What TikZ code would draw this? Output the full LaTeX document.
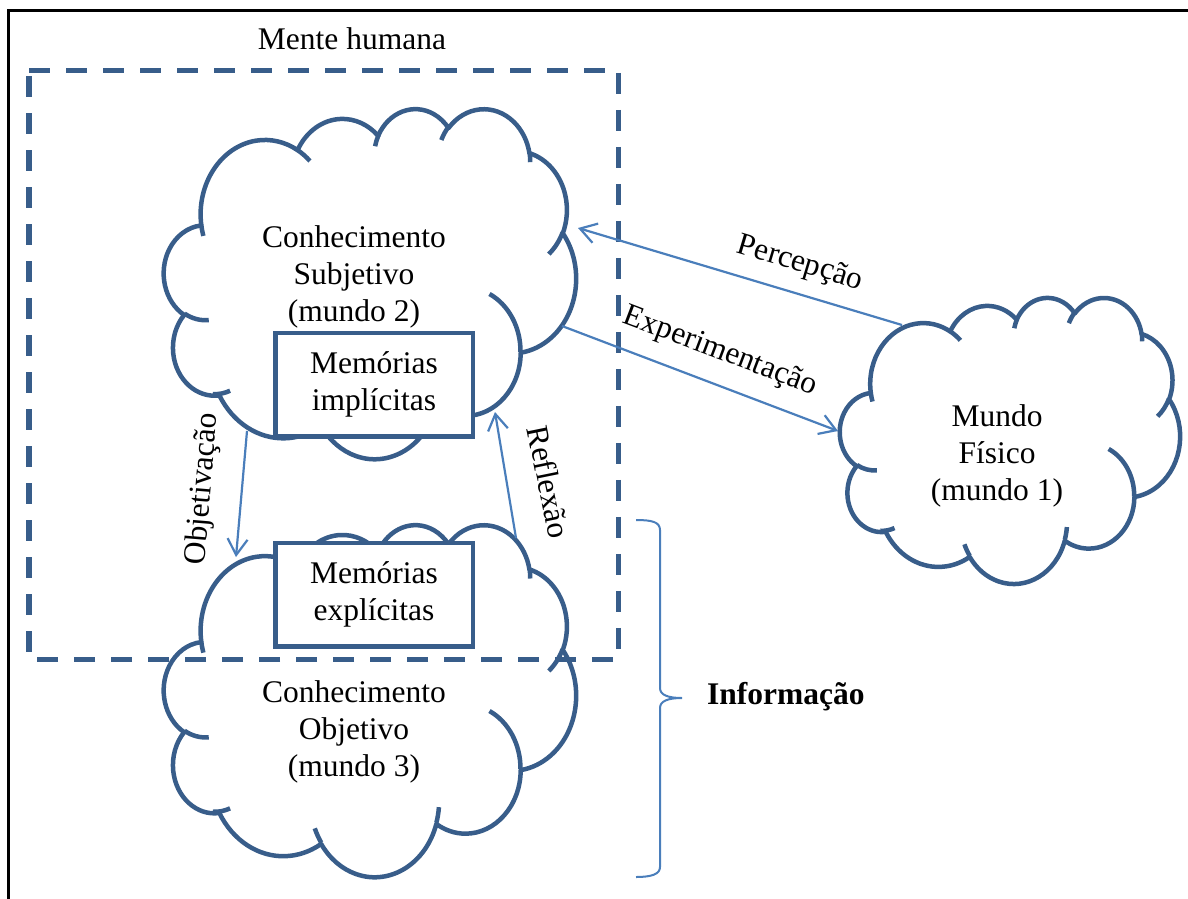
\documentclass[tikz,border=0pt]{standalone}
\usepackage{fontspec}
\setmainfont{Liberation Serif}
\usetikzlibrary{arrows.meta}

\definecolor{shapeblue}{HTML}{385D8A}
\definecolor{arrowblue}{HTML}{4A7EBB}

\newcommand\bodyfont{\fontsize{31.5}{37}\selectfont}

% elliptical arc continuing from the current point; angles are visual
% angles (converted to parametric ones by pang)
\newcommand\cloudarc[4]{arc[x radius=#1, y radius=#2,
  start angle={pang(#1,#2,#3)}, end angle={pang(#1,#2,(#3)+(#4))}]}

% cloud outline fitted into the box left/top/width/height (in pt, y down)
\newcommand\drawcloud[4]{%
  \pgfmathsetmacro\cloudsx{#3/432}%
  \pgfmathsetmacro\cloudsy{#4/432}%
  \begin{scope}[xshift=#1pt, yshift=-#2pt, x=\cloudsx pt, y=-\cloudsy pt]
    \draw[cloudline, fill=white] (39,143.7)
      \cloudarc{67.53}{91.90}{-190.4875}{123.7805}
      \cloudarc{53.33}{72.67}{-144.1024}{89.9452}
      \cloudarc{43.65}{59.45}{-145.8079}{99.7230}
      \cloudarc{48.57}{65.95}{-130.9861}{117.2417}
      \cloudarc{53.33}{72.73}{-78.7089}{109.0269}
      \cloudarc{67.75}{92.20}{-46.2673}{130.2690}
      \cloudarc{57.85}{78.67}{0.6250}{114.0333}
      \cloudarc{67.52}{92.15}{22.4516}{115.1726}
      \cloudarc{77.20}{105.43}{66.2426}{75.7110}
      \cloudarc{43.60}{59.18}{-274.9421}{146.7356}
      \cloudarc{43.45}{59.45}{-246.8285}{152.5189}
      -- cycle;
    \draw[cloudline]
      (46.93,261.77) \cloudarc{43.45}{59.45}{86.7420}{26.4295}
      (69.28,348.99) \cloudarc{43.60}{59.18}{73.6105}{18.2977}
      (164.78,390.90) \cloudarc{67.52}{92.15}{137.6242}{14.0722}
      (288.27,347.51) \cloudarc{67.52}{92.15}{6.4533}{15.9984}
      (341.29,229.54) \cloudarc{57.85}{78.67}{-70.2924}{70.9174}
      (417.98,153.54) \cloudarc{53.33}{72.73}{30.3180}{27.7515}
      (383.24,54.26) \cloudarc{48.57}{65.95}{-13.7443}{14.8589}
      (290.78,39.52) \cloudarc{48.57}{65.95}{-149.1815}{18.1954}
      (221.41,47.20) \cloudarc{43.65}{59.45}{-163.4943}{17.6864}
      (140.00,51.92) \cloudarc{67.53}{91.90}{-66.7070}{12.3194}
      (41.27,157.89) \cloudarc{67.53}{91.90}{157.6544}{11.8582};
  \end{scope}}

\begin{document}
\begin{tikzpicture}[x=1pt, y=-1pt,
  declare function={pang(\xa,\xb,\xc)=atan2(\xa*sin(\xc),\xb*cos(\xc))
      +360*round((\xc-atan2(\xa*sin(\xc),\xb*cos(\xc)))/360);},
  cloudline/.style={draw=shapeblue, line width=4.5pt, line join=round},
  memo/.style={draw=shapeblue, line width=4.5pt, fill=white,
    minimum width=197.5pt, minimum height=103.5pt, inner sep=0pt,
    align=center, font=\bodyfont},
  lbl/.style={font=\bodyfont, inner sep=0pt, align=center},
  flow/.style={draw=arrowblue, line width=2.2pt,
    -{Straight Barb[length=16pt,width=20pt]}},
]
\useasboundingbox (0,0) rectangle (1188,899);

% page frame (top and left edges)
\draw[line width=2.5pt] (8.5,905) -- (8.5,10.5) -- (1195,10.5);

% the three worlds
\drawcloud{164}{108}{412}{350}
\drawcloud{164}{524}{412}{352}
\drawcloud{840}{297}{340}{286}

\node[lbl] (subj) at (354,277) {Conhecimento\\Subjetivo\\(mundo 2)};
\node[lbl] (obj) at (354,732) {Conhecimento\\Objetivo\\(mundo 3)};
\node[lbl] (fis) at (997,456) {Mundo\\Físico\\(mundo 1)};

% memory boxes
\node[memo] (impl) at (374,384.5) {Memórias\\implícitas};
\node[memo] (expl) at (374,594.5) {Memórias\\explícitas};

% human mind boundary
\node[lbl, anchor=base] (mente) at (352,50) {Mente humana};
\draw[draw=shapeblue, line width=5.3pt, dash pattern=on 21pt off 16pt,
  line join=round]
  (29,70.3) -- (618.5,70.3) -- (618.5,659.5) -- (29,659.5) -- cycle;

% arrow end points on the cloud outlines
\coordinate (percFrom) at (902,325);
\coordinate (percTo) at (578,228);
\coordinate (expFrom) at (562,326);
\coordinate (expTo) at (838,431);
\coordinate (objFrom) at (247,431);
\coordinate (objTo) at (236,557);
\coordinate (refFrom) at (516,538);
\coordinate (refTo) at (495,412);

\draw[flow] (percFrom) -- (percTo);
\draw[flow] (expFrom) -- (expTo);
\draw[flow] (objFrom) -- (objTo);
\draw[flow] (refFrom) -- (refTo);

\node[lbl, rotate=-16.7] (perc) at (800,264) {Percepção};
\node[lbl, rotate=-20.8] (exper) at (720,352) {Experimentação};
\node[lbl, rotate=85.3] (objet) at (203,489) {Objetivação};
\node[lbl, rotate=-78.5] (refl) at (549,482) {Reflexão};

% brace grouping the information part
\draw[draw=arrowblue, line width=2pt]
  (636,520) .. controls (652,520) and (660,522) .. (660,530)
  -- (660,688) .. controls (660,695) and (668,698) .. (682,698)
  .. controls (668,698) and (660,701) .. (660,708)
  -- (660,867) .. controls (660,874) and (652,877) .. (636,877);
\node[lbl, anchor=base west, font=\bodyfont\bfseries] (info) at (707,704) {Informação};
\end{tikzpicture}
\end{document}
